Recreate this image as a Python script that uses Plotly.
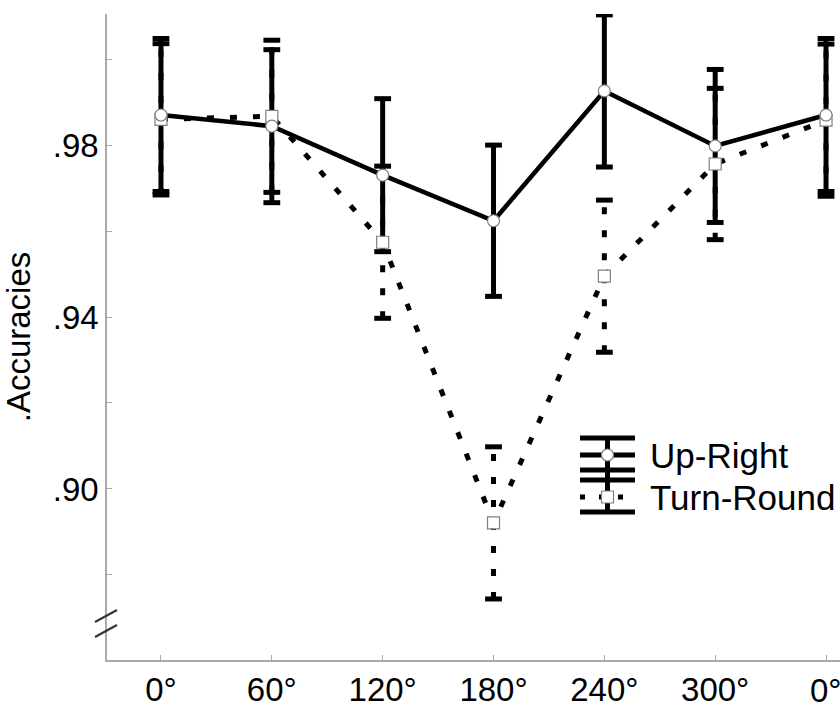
import plotly.graph_objects as go

categories = ["0°", "60°", "120°", "180°", "240°", "300°", "0°"]
up_right = [0.9870, 0.9844, 0.9730, 0.9624, 0.9926, 0.9798, 0.9870]
up_right_err = [0.0178, 0.0178, 0.0178, 0.0176, 0.0177, 0.0178, 0.0178]
turn_round = [0.9860, 0.9867, 0.9574, 0.8921, 0.9495, 0.9756, 0.9858]
turn_round_err = [0.0176, 0.0177, 0.0177, 0.0177, 0.0177, 0.0176, 0.0177]

y_tickvals = [0.88, 0.90, 0.92, 0.94, 0.96, 0.98, 1.00]
y_ticktext = ["", ".90", "", ".94", "", ".98", ""]

xs = list(range(len(categories)))
FONT = "Liberation Sans, Arial, sans-serif"
DASH = "7px,16px"

def bar_xy(vals, errs):
    bx, by = [], []
    for i, (v, e) in enumerate(zip(vals, errs)):
        bx += [i, i, None]
        by += [v - e, v + e, None]
    return bx, by

def cap_xy(vals, errs):
    cx, cy = [], []
    for i, (v, e) in enumerate(zip(vals, errs)):
        cx += [i, i]
        cy += [v - e, v + e]
    return cx, cy

fig = go.Figure()

# Turn-Round error bars (dotted)
bx, by = bar_xy(turn_round, turn_round_err)
fig.add_trace(go.Scatter(x=bx, y=by, mode="lines", showlegend=False,
                         line=dict(color="black", width=5, dash=DASH), hoverinfo="skip"))
cx, cy = cap_xy(turn_round, turn_round_err)
fig.add_trace(go.Scatter(x=cx, y=cy, mode="markers", showlegend=False, hoverinfo="skip",
                         marker=dict(symbol="line-ew", size=12, line=dict(color="black", width=5))))
# Up-Right error bars (solid)
bx, by = bar_xy(up_right, up_right_err)
fig.add_trace(go.Scatter(x=bx, y=by, mode="lines", showlegend=False,
                         line=dict(color="black", width=5), hoverinfo="skip"))
cx, cy = cap_xy(up_right, up_right_err)
fig.add_trace(go.Scatter(x=cx, y=cy, mode="markers", showlegend=False, hoverinfo="skip",
                         marker=dict(symbol="line-ew", size=12, line=dict(color="black", width=5))))

# Lines
fig.add_trace(go.Scatter(x=xs, y=turn_round, mode="lines", name="Turn-Round", showlegend=False,
                         line=dict(color="black", width=5, dash=DASH)))
fig.add_trace(go.Scatter(x=xs, y=up_right, mode="lines", name="Up-Right", showlegend=False,
                         line=dict(color="black", width=4.5)))
# Markers
fig.add_trace(go.Scatter(x=xs, y=turn_round, mode="markers", showlegend=False,
                         marker=dict(symbol="square", size=12, color="white",
                                     line=dict(color="#808080", width=1.2))))
fig.add_trace(go.Scatter(x=xs, y=up_right, mode="markers", showlegend=False,
                         marker=dict(symbol="circle", size=12, color="white",
                                     line=dict(color="#808080", width=1.2))))

# ---- custom legend (paper coords) ----
L, T, PW, PH = 107, 14, 733, 646
def px(xp):
    return (xp - L) / PW
def py(yp):
    return (T + PH - yp) / PH

shapes = []
gx0, gx1, gc = px(580), px(635), px(607.5)
for yy in [438, 470, 480, 512]:
    shapes.append(dict(type="line", xref="paper", yref="paper", x0=gx0, x1=gx1, y0=py(yy), y1=py(yy),
                       line=dict(color="black", width=5)))
shapes.append(dict(type="line", xref="paper", yref="paper", x0=gc, x1=gc, y0=py(438), y1=py(512),
                   line=dict(color="black", width=5)))
shapes.append(dict(type="line", xref="paper", yref="paper", x0=gx0, x1=gx1, y0=py(455), y1=py(455),
                   line=dict(color="black", width=5)))
shapes.append(dict(type="line", xref="paper", yref="paper", x0=gx0, x1=gx1, y0=py(497), y1=py(497),
                   line=dict(color="black", width=5, dash="5px,14px")))
shapes.append(dict(type="circle", xref="paper", yref="paper", xsizemode="pixel", ysizemode="pixel",
                   xanchor=gc, yanchor=py(455), x0=-6, x1=6, y0=-6, y1=6,
                   fillcolor="white", line=dict(color="#808080", width=1.2)))
shapes.append(dict(type="rect", xref="paper", yref="paper", xsizemode="pixel", ysizemode="pixel",
                   xanchor=gc, yanchor=py(497), x0=-6, x1=6, y0=-6, y1=6,
                   fillcolor="white", line=dict(color="#808080", width=1.2)))
# axis break marks
for (ya, yb) in [(622, 610), (637, 625)]:
    shapes.append(dict(type="line", xref="paper", yref="paper", x0=px(95), x1=px(117),
                       y0=py(ya), y1=py(yb), line=dict(color="#333333", width=2)))

annotations = [
    dict(text="Up-Right", xref="paper", yref="paper", x=px(648), y=py(455), xanchor="left",
         yanchor="middle", showarrow=False, font=dict(size=35, color="black", family=FONT)),
    dict(text="Turn-Round", xref="paper", yref="paper", x=px(648), y=py(497), xanchor="left",
         yanchor="middle", showarrow=False, font=dict(size=35, color="black", family=FONT)),
    # last tick label, which sits at the figure edge
    dict(text=categories[-1], xref="x", yref="paper", x=xs[-1], y=py(690), xanchor="center",
         yanchor="middle", showarrow=False, font=dict(size=33, color="black", family=FONT)),
]

tick_text_x = categories[:-1] + [""]

fig.update_layout(
    width=840, height=709,
    margin=dict(l=L, r=0, t=T, b=709 - T - PH),
    plot_bgcolor="white", paper_bgcolor="white",
    font=dict(family=FONT, size=33, color="black"),
    shapes=shapes, annotations=annotations,
    xaxis=dict(range=[-0.487, 6.126], tickvals=xs, ticktext=tick_text_x,
               showgrid=False, zeroline=False, showline=True, linecolor="#aaaaaa", linewidth=1.5,
               ticks="inside", ticklen=5, tickcolor="#aaaaaa", tickfont=dict(size=33)),
    yaxis=dict(range=[0.8602, 1.0105], tickvals=y_tickvals, ticktext=y_ticktext,
               showgrid=False, zeroline=False, showline=True, linecolor="#aaaaaa", linewidth=1.5,
               ticks="inside", ticklen=5, tickcolor="#aaaaaa", tickfont=dict(size=33),
               title=dict(text=".Accuracies", font=dict(size=33), standoff=14)),
)

fig.write_html("out.html")
